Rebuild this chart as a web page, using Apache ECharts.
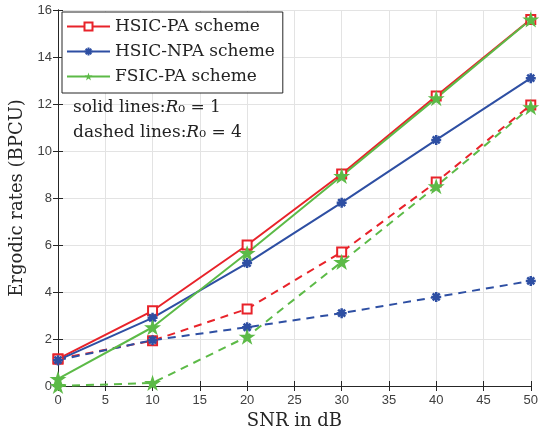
<!DOCTYPE html>
<html>
<head>
<meta charset="utf-8">
<script src="https://cdn.jsdelivr.net/npm/echarts@6/dist/echarts.min.js"></script>
<style>
html, body { margin: 0; padding: 0; background: #fff; }
#chart { width: 541px; height: 438px; }
</style>
</head>
<body>
<div id="chart"></div>
<script>
// SNR points (dB)
var snr = [0, 10, 20, 30, 40, 50];

// solid lines, R0 = 1
var hsicPA1  = [1.15, 3.2, 6.0, 9.02, 12.34, 15.6];
var hsicNPA1 = [1.1, 2.9, 5.23, 7.8, 10.47, 13.1];
var fsicPA1  = [0.3, 2.5, 5.66, 8.94, 12.25, 15.6];

// dashed lines, R0 = 4
var hsicPA4  = [1.15, 1.93, 3.28, 5.7, 8.68, 11.96];
var hsicNPA4 = [1.1, 1.95, 2.5, 3.1, 3.79, 4.47];
var fsicPA4  = [0.0, 0.13, 2.1, 5.28, 8.5, 11.87];

var names = ['HSIC-PA scheme', 'HSIC-NPA scheme', 'FSIC-PA scheme'];

var RED = '#e8232a', BLUE = '#2e4fa3', GREEN = '#5cba47';
var serif = '"DejaVu Serif", "Liberation Serif", serif';
var sans = '"Liberation Sans", Arial, sans-serif';

var starPath = 'path://M100,0 L122.34,69.26 L195.11,69.1 L136.14,111.74 L158.78,180.9 L100,138 L41.22,180.9 L63.86,111.74 L4.89,69.1 L77.66,69.26 Z';
var astPath = 'path://M0,10 L20,10 M10,0 L10,20 M3,3 L17,17 M17,3 L3,17';

function pairs(ys) {
    return snr.map(function (x, i) { return [x, ys[i]]; });
}

function mk(name, ys, color, dashed, kind) {
    var s = {
        name: name,
        type: 'line',
        data: pairs(ys),
        lineStyle: { color: color, width: 2, type: dashed ? [8, 6] : 'solid' },
        itemStyle: { color: color },
        symbolKeepAspect: true,
        z: dashed ? 2 : 3,
        animation: false
    };
    if (kind === 'sq') {
        s.symbol = 'rect';
        s.symbolSize = 9;
        s.itemStyle = { color: '#fff', borderColor: color, borderWidth: 2 };
    } else if (kind === 'ast') {
        s.symbol = astPath;
        s.symbolSize = 10;
        s.itemStyle = { color: color, borderColor: color, borderWidth: 2.5 };
    } else {
        s.symbol = starPath;
        s.symbolSize = 17;
        s.itemStyle = { color: color };
    }
    return s;
}

var richR = {
    n: { fontFamily: serif, fontSize: 17, fill: '#222' },
    i: { fontFamily: serif, fontSize: 17, fontStyle: 'italic', fill: '#222' }
};

var chart = echarts.init(document.getElementById('chart'));
chart.setOption({
    animation: false,
    grid: { left: 57, right: 2, top: 10, bottom: 52 },
    legend: {
        data: names,
        orient: 'vertical',
        left: 62,
        top: 12,
        padding: [6, 8, 8, 4],
        itemWidth: 43,
        itemHeight: 10,
        itemGap: 8,
        backgroundColor: '#fff',
        borderColor: '#262626',
        borderWidth: 1,
        textStyle: { fontFamily: serif, fontSize: 17, color: '#222' }
    },
    graphic: [
        {
            type: 'text', left: 73, top: 99, z: 10,
            style: { text: '{n|solid lines:}{i|R}{n|₀ = 1}', rich: richR }
        },
        {
            type: 'text', left: 73, top: 124, z: 10,
            style: { text: '{n|dashed lines:}{i|R}{n|₀ = 4}', rich: richR }
        }
    ],
    xAxis: [
        {
            type: 'value', min: 0, max: 50, interval: 5,
            name: 'SNR in dB', nameLocation: 'middle', nameGap: 22,
            nameTextStyle: { fontFamily: serif, fontSize: 18, color: '#262626' },
            axisLine: { lineStyle: { color: '#262626', width: 1 } },
            axisTick: { inside: true, length: 5, lineStyle: { color: '#262626' } },
            axisLabel: { fontFamily: sans, fontSize: 13, color: '#404040', margin: 8 },
            splitLine: { show: true, lineStyle: { color: '#e3e3e3' } }
        },
        {
            type: 'value', min: 0, max: 50, interval: 5, position: 'top',
            axisLine: { lineStyle: { color: '#262626', width: 1 } },
            axisTick: { inside: true, length: 5, lineStyle: { color: '#262626' } },
            axisLabel: { show: false },
            splitLine: { show: false }
        }
    ],
    yAxis: [
        {
            type: 'value', min: 0, max: 16, interval: 2,
            name: 'Ergodic rates (BPCU)', nameLocation: 'middle', nameGap: 32,
            nameTextStyle: { fontFamily: serif, fontSize: 18, color: '#262626' },
            axisLine: { show: true, lineStyle: { color: '#262626', width: 1 } },
            axisTick: { show: true, inside: true, length: 5, lineStyle: { color: '#262626' } },
            axisLabel: { fontFamily: sans, fontSize: 13, color: '#404040', margin: 6 },
            splitLine: { show: true, lineStyle: { color: '#e3e3e3' } }
        },
        {
            type: 'value', min: 0, max: 16, interval: 2, position: 'right',
            axisLine: { show: true, lineStyle: { color: '#262626', width: 1 } },
            axisTick: { show: true, inside: true, length: 5, lineStyle: { color: '#262626' } },
            axisLabel: { show: false },
            splitLine: { show: false }
        }
    ],
    series: [
        mk(names[0], hsicPA1, RED, false, 'sq'),
        mk(names[1], hsicNPA1, BLUE, false, 'ast'),
        mk(names[2], fsicPA1, GREEN, false, 'star'),
        mk(names[0], hsicPA4, RED, true, 'sq'),
        mk(names[1], hsicNPA4, BLUE, true, 'ast'),
        mk(names[2], fsicPA4, GREEN, true, 'star')
    ]
});
</script>
</body>
</html>
